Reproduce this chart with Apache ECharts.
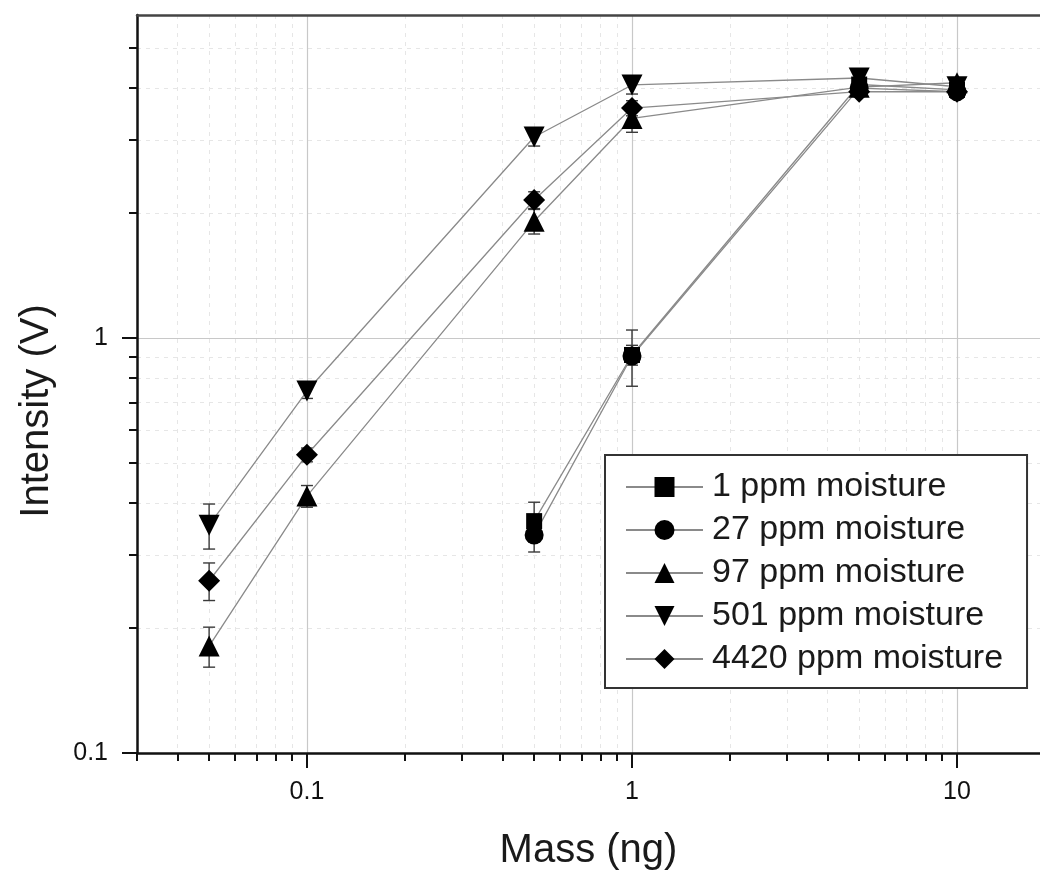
<!DOCTYPE html>
<html>
<head>
<meta charset="utf-8">
<script src="https://cdn.jsdelivr.net/npm/echarts@6/dist/echarts.min.js"></script>
<style>html,body{margin:0;padding:0;background:#fff}#c{width:1040px;height:876px}</style>
</head>
<body>
<div id="c"></div>
<script>
// ---- data ----
const seriesNames = ['1 ppm moisture', '27 ppm moisture', '97 ppm moisture', '501 ppm moisture', '4420 ppm moisture'];
const massAll = [0.05, 0.1, 0.5, 1, 5, 10];
const massHigh = [0.5, 1, 5, 10];
const ppm1Y = [0.362, 0.91, 4.08, 3.96];
const ppm1Err = [0.04, 0.05, 0.12, 0.1];
const ppm27Y = [0.335, 0.905, 4.0, 3.92];
const ppm27Err = [0.03, 0.14, 0.1, 0.1];
const ppm97Y = [0.181, 0.416, 1.91, 3.38, 4.02, 4.12];
const ppm97Err = [0.02, 0.025, 0.13, 0.25, 0.1, 0.08];
const ppm501Y = [0.354, 0.745, 3.05, 4.07, 4.23, 4.03];
const ppm501Err = [0.044, 0.03, 0.15, 0.2, 0.15, 0.08];
const ppm4420Y = [0.26, 0.523, 2.15, 3.58, 3.92, 3.92];
const ppm4420Err = [0.027, 0.02, 0.1, 0.15, 0.1, 0.1];
const xMajorTicks = [0.1, 1, 10];
const xMinorTicks = [0.03, 0.04, 0.05, 0.06, 0.07, 0.08, 0.09, 0.2, 0.3, 0.4, 0.5, 0.6, 0.7, 0.8, 0.9, 2, 3, 4, 5, 6, 7, 8, 9];
const yMajorTicks = [0.1, 1];
const yMinorTicks = [0.2, 0.3, 0.4, 0.5, 0.6, 0.7, 0.8, 0.9, 2, 3, 4, 5];
const xRange = [0.03, 18];
const yRange = [0.1, 6];

const FONT = 'Liberation Sans, Arial, sans-serif';
const symbols = [
  {symbol: 'rect', size: 16, rotate: 0},
  {symbol: 'circle', size: 19, rotate: 0},
  {symbol: 'triangle', size: 21, rotate: 0},
  {symbol: 'triangle', size: 21, rotate: 180},
  {symbol: 'diamond', size: 22, rotate: 0}
];
const xData = [massHigh, massHigh, massAll, massAll, massAll];
const yData = [ppm1Y, ppm27Y, ppm97Y, ppm501Y, ppm4420Y];
const eData = [ppm1Err, ppm27Err, ppm97Err, ppm501Err, ppm4420Err];

const fmt = v => String(+(+v).toPrecision(3));

const series = [];
seriesNames.forEach((name, i) => {
  const pts = xData[i].map((x, k) => [x, yData[i][k]]);
  series.push({
    type: 'line', name: name, data: pts,
    xAxisIndex: 0, yAxisIndex: 0,
    symbol: symbols[i].symbol, symbolSize: symbols[i].size, symbolRotate: symbols[i].rotate,
    itemStyle: {color: '#000'},
    lineStyle: {color: '#8a8a8a', width: 1.3},
    z: 5
  });
  series.push({
    type: 'custom', name: name + ' err',
    xAxisIndex: 0, yAxisIndex: 0,
    data: xData[i].map((x, k) => [x, yData[i][k], eData[i][k]]),
    z: 4,
    renderItem: function (params, api) {
      const x = api.value(0), y = api.value(1), e = api.value(2);
      const top = api.coord([x, y + e]);
      const bot = api.coord([x, y - e]);
      const w = 6;
      const st = {stroke: '#3a3a3a', lineWidth: 1.4};
      return {type: 'group', children: [
        {type: 'line', shape: {x1: top[0], y1: top[1], x2: bot[0], y2: bot[1]}, style: st},
        {type: 'line', shape: {x1: top[0] - w, y1: top[1], x2: top[0] + w, y2: top[1]}, style: st},
        {type: 'line', shape: {x1: bot[0] - w, y1: bot[1], x2: bot[0] + w, y2: bot[1]}, style: st}
      ]};
    }
  });
});

const option = {
  animation: false,
  backgroundColor: '#fff',
  grid: {left: 137, right: 0, top: 15, bottom: 121, containLabel: false},
  legend: {
    data: seriesNames,
    orient: 'vertical',
    left: 605, top: 455,
    backgroundColor: '#fff',
    borderColor: '#333', borderWidth: 2,
    padding: [15, 24, 12, 20],
    itemWidth: 77, itemHeight: 25, itemGap: 9,
    textStyle: {fontFamily: FONT, fontSize: 34, lineHeight: 34, color: '#1a1a1a', padding: [0, 0, 0, 4]},
    z: 10
  },
  xAxis: [
    {
      type: 'log', logBase: 10, min: xRange[0], max: xRange[1], position: 'bottom',
      name: 'Mass (ng)', nameLocation: 'middle', nameGap: 78,
      nameTextStyle: {fontFamily: FONT, fontSize: 40, color: '#1a1a1a'},
      axisLine: {show: true, onZero: false, lineStyle: {color: '#111', width: 2.5}},
      axisTick: {show: true, inside: false, length: 15, customValues: xMajorTicks, lineStyle: {color: '#111', width: 2}},
      axisLabel: {show: true, margin: 27, customValues: xMajorTicks, formatter: fmt, fontFamily: FONT, fontSize: 25, color: '#111'},
      splitLine: {show: true, lineStyle: {color: '#c8c8c8', width: 1.2}},
      z: 3
    },
    {
      type: 'log', logBase: 10, min: xRange[0], max: xRange[1], position: 'bottom',
      axisLine: {show: false, onZero: false},
      axisTick: {show: true, inside: false, length: 8, customValues: xMinorTicks, lineStyle: {color: '#111', width: 2}},
      axisLabel: {show: false},
      splitLine: {show: true, lineStyle: {color: '#e6e6e6', width: 1, type: [4, 5]}},
      z: 2
    },
    {
      type: 'log', logBase: 10, min: xRange[0], max: xRange[1], position: 'top',
      axisLine: {show: true, onZero: false, lineStyle: {color: '#444', width: 2.5}},
      axisTick: {show: false}, axisLabel: {show: false}, splitLine: {show: false},
      z: 3
    }
  ],
  yAxis: [
    {
      type: 'log', logBase: 10, min: yRange[0], max: yRange[1], position: 'left',
      name: 'Intensity (V)', nameLocation: 'middle', nameGap: 80,
      nameTextStyle: {fontFamily: FONT, fontSize: 40, color: '#1a1a1a', padding: [0, 54, 0, 0]},
      axisLine: {show: true, onZero: false, lineStyle: {color: '#111', width: 2.5}},
      axisTick: {show: true, inside: false, length: 15, customValues: yMajorTicks, lineStyle: {color: '#111', width: 2}},
      axisLabel: {show: true, margin: 29, customValues: yMajorTicks, formatter: fmt, fontFamily: FONT, fontSize: 25, color: '#111'},
      splitLine: {show: true, lineStyle: {color: '#c8c8c8', width: 1.2}},
      z: 3
    },
    {
      type: 'log', logBase: 10, min: yRange[0], max: yRange[1], position: 'left',
      axisLine: {show: false, onZero: false},
      axisTick: {show: true, inside: false, length: 8, customValues: yMinorTicks, lineStyle: {color: '#111', width: 2}},
      axisLabel: {show: false},
      splitLine: {show: true, lineStyle: {color: '#e6e6e6', width: 1, type: [4, 5]}},
      z: 2
    }
  ],
  series: series
};

const chart = echarts.init(document.getElementById('c'), null, {renderer: 'canvas'});
chart.setOption(option);
</script>
</body>
</html>
